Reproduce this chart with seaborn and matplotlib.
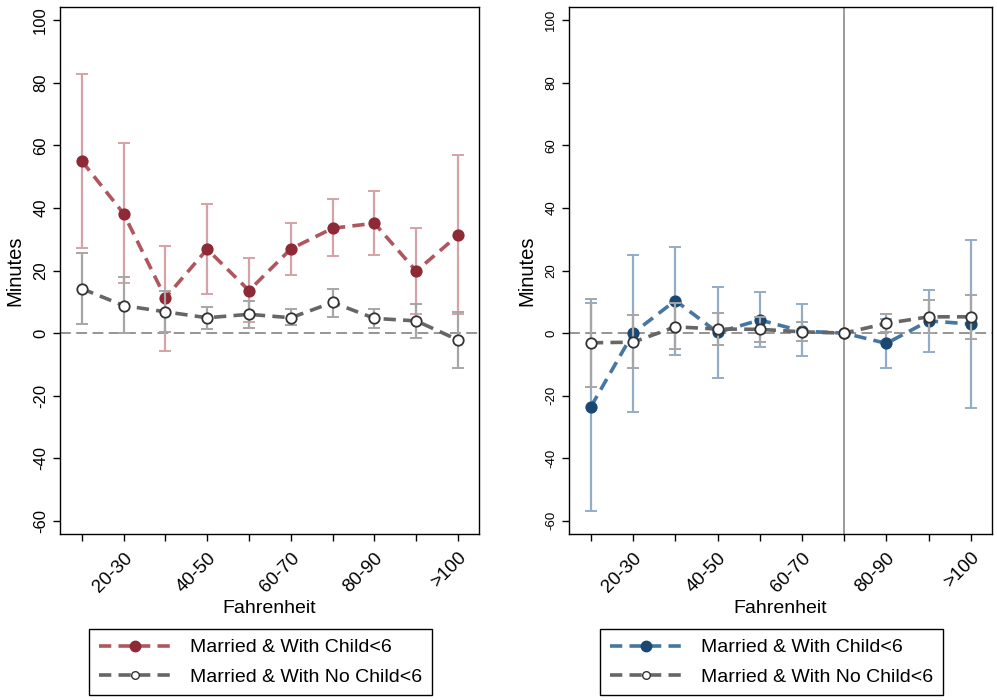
import numpy as np
import pandas as pd
import matplotlib
matplotlib.use("Agg")
import matplotlib.pyplot as plt
from matplotlib.lines import Line2D
import seaborn as sns

# Temperature bins (Fahrenheit); only every other one is labelled on the axis
bins = ["<20", "20-30", "30-40", "40-50", "50-60",
        "60-70", "70-80", "80-90", "90-100", ">100"]
shown_labels = ["20-30", "40-50", "60-70", "80-90", ">100"]

# Panel A: point estimates and 95% confidence bounds (minutes)
a_child = [55.0, 38.2, 11.3, 26.8, 13.6, 26.9, 33.5, 35.1, 19.8, 31.3]
a_child_hi = [82.8, 60.6, 27.9, 41.4, 24.1, 35.2, 42.7, 45.5, 33.6, 56.8]
a_child_lo = [27.2, 15.9, -5.6, 12.6, 3.4, 18.7, 24.6, 24.8, 6.0, 6.0]
a_nochild = [14.2, 8.8, 6.8, 4.9, 6.0, 4.9, 9.8, 4.7, 3.9, -2.2]
a_nochild_hi = [25.6, 17.8, 13.5, 8.3, 10.3, 7.7, 14.2, 7.6, 9.4, 6.7]
a_nochild_lo = [2.8, 0.0, 0.3, 1.4, 1.7, 2.6, 5.2, 1.7, -1.5, -11.1]

# Panel B: estimates relative to the 70-80 bin
b_child = [-23.5, 0.0, 10.4, 0.2, 4.2, 0.6, 0.0, -3.3, 3.9, 2.9]
b_child_hi = [9.6, 25.0, 27.6, 14.8, 13.0, 9.2, 0.0, 4.4, 13.7, 29.7]
b_child_lo = [-56.7, -25.2, -6.9, -14.3, -4.4, -7.2, 0.0, -11.0, -6.0, -23.9]
b_nochild = [-3.1, -2.9, 2.0, 1.3, 1.2, 0.4, 0.0, 3.1, 5.2, 5.2]
b_nochild_hi = [10.9, 5.8, 9.5, 6.3, 5.0, 3.6, 0.0, 6.0, 10.5, 12.2]
b_nochild_lo = [-17.1, -11.3, -5.1, -3.8, -2.7, -2.5, 0.0, 0.3, -0.1, -2.0]

series_names = ["Married & With Child<6", "Married & With No Child<6"]

sns.set_style("ticks")
plt.rcParams["font.family"] = ["Liberation Sans", "DejaVu Sans"]
plt.rcParams.update({"text.color": "black", "axes.labelcolor": "black",
                     "xtick.color": "black", "ytick.color": "black"})

fig = plt.figure(figsize=(9.97, 7.0), dpi=100)
ax_a = fig.add_axes([60 / 997, 1 - 534 / 700, (479 - 60) / 997, (534 - 7) / 700])
ax_b = fig.add_axes([569 / 997, 1 - 534 / 700, (992 - 569) / 997, (534 - 7) / 700])

pos = np.arange(1, len(bins) + 1)
GRAY_LINE = "#666666"
GRAY_CI = "#a6a6a6"
DASH = (0, (3.4, 2.0))


def draw_series(ax, est, lo, hi, line_c, ci_c, face_c, edge_c, z):
    df = pd.DataFrame({"pos": pos, "est": est, "bin": bins})
    est = np.asarray(est)
    err = np.vstack([est - np.asarray(lo), np.asarray(hi) - est])
    ax.errorbar(pos, est, yerr=err, fmt="none", ecolor=ci_c,
                elinewidth=1.6, capsize=4, capthick=1.4, zorder=z)
    sns.lineplot(data=df, x="pos", y="est", ax=ax, color=line_c,
                 linewidth=2.6, linestyle=DASH, marker="o", markersize=7.5,
                 markerfacecolor=face_c, markeredgecolor=edge_c,
                 markeredgewidth=1.3, zorder=z + 1, legend=False)


def style_axis(ax, tick_fs):
    ax.axhline(0, color="#8c8c8c", linewidth=1.3, linestyle=(0, (6, 3)), zorder=1)
    ax.set_xlim(0.48, 10.5)
    ax.set_ylim(-64.2, 104.2)
    ax.set_yticks([-60, -40, -20, 0, 20, 40, 60, 80, 100])
    ax.set_yticklabels(["-60", "-40", "-20", "0", "20", "40", "60", "80", "100"],
                       rotation=90, va="center", fontsize=tick_fs)
    ax.set_xticks(pos)
    ax.set_xticklabels([b if b in shown_labels else "" for b in bins],
                       rotation=45, ha="right", rotation_mode="anchor", fontsize=13.5)
    ax.tick_params(axis="both", direction="out", length=5, width=1, color="black")
    ax.tick_params(axis="x", pad=6)
    for s in ax.spines.values():
        s.set_visible(True)
        s.set_color("black")
        s.set_linewidth(1.0)
    ax.set_xlabel("Fahrenheit", fontsize=14, labelpad=3)
    ax.set_ylabel("Minutes", fontsize=14.5, labelpad=6)
    ax.grid(False)


# Panel A
draw_series(ax_a, a_child, a_child_lo, a_child_hi,
            "#b0565e", "#d4a3a8", "#8e2a35", "#8e2a35", 3)
draw_series(ax_a, a_nochild, a_nochild_lo, a_nochild_hi,
            GRAY_LINE, GRAY_CI, "white", "#333333", 5)
style_axis(ax_a, 12)

# Panel B
ax_b.axvline(7, color="#808080", linewidth=1.1, zorder=1)
draw_series(ax_b, b_child, b_child_lo, b_child_hi,
            "#4677a3", "#94adc6", "#1a4872", "#1a4872", 3)
draw_series(ax_b, b_nochild, b_nochild_lo, b_nochild_hi,
            GRAY_LINE, GRAY_CI, "white", "#333333", 5)
style_axis(ax_b, 9.5)


def legend_handles(line_c, face_c):
    return [
        Line2D([], [], color=line_c, linewidth=2.6, linestyle=DASH, marker="o",
               markersize=7.5, markerfacecolor=face_c, markeredgecolor=face_c),
        Line2D([], [], color=GRAY_LINE, linewidth=2.6, linestyle=DASH, marker="o",
               markersize=5.5, markerfacecolor="white", markeredgecolor="#333333",
               markeredgewidth=1.0),
    ]


for handles, cx in [(legend_handles("#b0565e", "#8e2a35"), 260.5 / 997),
                    (legend_handles("#4677a3", "#1a4872"), 771.5 / 997)]:
    leg = fig.legend(handles, series_names, loc="upper center",
                     bbox_to_anchor=(cx, 1 - 629 / 700), fontsize=14,
                     frameon=True, fancybox=False, edgecolor="black",
                     framealpha=1, handlelength=3.7, handletextpad=1.0,
                     labelspacing=0.6, borderpad=0.5, numpoints=1,
                     borderaxespad=0)
    leg.get_frame().set_linewidth(1.0)

fig.savefig("out.png", dpi=100)
